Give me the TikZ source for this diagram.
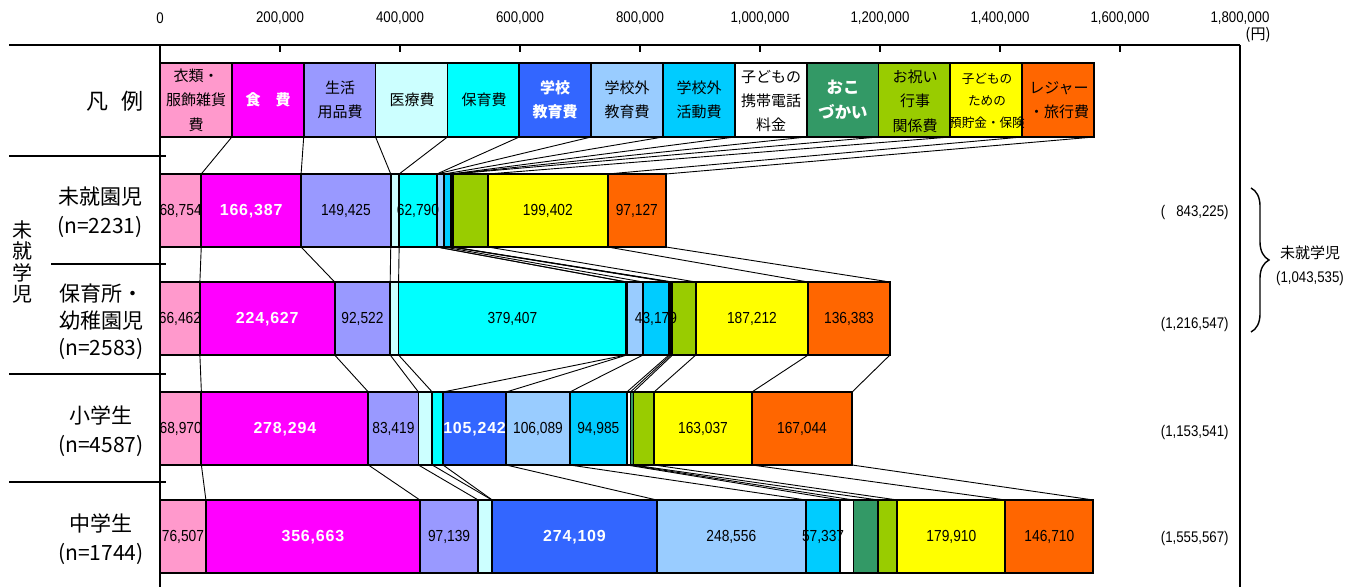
\documentclass[tikz,border=0pt]{standalone}
\usepackage{fontspec}
\setmainfont{Noto Sans CJK JP}
\newfontfamily\numfont[FakeStretch=0.86]{Liberation Sans}
\newfontfamily\wnumfont[LetterSpace=5]{Liberation Sans}
\usetikzlibrary{decorations.pathreplacing}

\definecolor{cat1}{HTML}{FF99CC}
\definecolor{cat2}{HTML}{FF00FF}
\definecolor{cat3}{HTML}{9999FF}
\definecolor{cat4}{HTML}{CCFFFF}
\definecolor{cat5}{HTML}{00FFFF}
\definecolor{cat6}{HTML}{3366FF}
\definecolor{cat7}{HTML}{99CCFF}
\definecolor{cat8}{HTML}{00CCFF}
\definecolor{cat9}{HTML}{FFFFFF}
\definecolor{cat10}{HTML}{339966}
\definecolor{cat11}{HTML}{99CC00}
\definecolor{cat12}{HTML}{FFFF00}
\definecolor{cat13}{HTML}{FF6600}

\pgfdeclarelayer{front}
\pgfsetlayers{main,front}

\tikzset{
  bar/.style={draw=black, line width=0.9pt},
  link/.style={line width=0.45pt},
  frame/.style={line width=1.2pt},
  leg/.style={align=center, font=\fontsize{7.5}{12.2}\selectfont},
  legw/.style={leg, text=white, font=\fontsize{7.5}{12.2}\selectfont\bfseries},
  num/.style={font=\numfont\fontsize{8}{9}\selectfont, inner sep=0pt},
  axisnum/.style={font=\numfont\fontsize{7.7}{9}\selectfont, inner sep=0pt},
  rowlab/.style={align=center, font=\fontsize{10.5}{14.5}\selectfont},
}

\newcommand{\wnum}{\wnumfont\bfseries\color{white}}

% one bar: name, top edge (px), value/label list (thousand yen)
\newcommand{\costbar}[3]{%
  \xdef\runsum{0}%
  \foreach \val/\lbl [count=\k] in {#3} {%
    \pgfmathsetmacro\xa{160+0.6*\runsum}%
    \pgfmathsetmacro\newsum{\runsum+\val}%
    \pgfmathsetmacro\xb{160+0.6*\newsum}%
    \global\let\runsum\newsum
    \filldraw[bar, fill=cat\k] (\xa,#2) rectangle (\xb,#2+73);
    \coordinate (#1-\k-top) at (\xb,#2);
    \coordinate (#1-\k-bot) at (\xb,#2+73);
    \begin{pgfonlayer}{front}
      \node[num] at ({(\xa+\xb)/2},#2+37) {\lbl};
    \end{pgfonlayer}
  }%
}

\begin{document}
\begin{tikzpicture}[x=0.5pt, y=-0.5pt]
\useasboundingbox (0,0) rectangle (1347,587);

% axis and frame
\foreach \t [count=\i from 0] in {0,{200,000},{400,000},{600,000},{800,000},{1,000,000},{1,200,000},{1,400,000},{1,600,000},{1,800,000}}
  \node[axisnum] at (160+120*\i,18) {\t};
\node[font=\fontsize{7.5}{9}\selectfont] at (1258,35) {(円)};
\draw[frame] (9,45) -- (1240,45);
\draw[frame] (160,45) -- (160,587);
\draw[frame] (1240,45) -- (1240,587);
\foreach \i in {1,...,8}
  \draw[frame] (160+120*\i,45) -- ++(0,7);
\draw[frame] (9,156) -- (166,156);
\draw[frame] (51,264) -- (166,264);
\draw[frame] (9,374) -- (166,374);
\draw[frame] (9,482) -- (166,482);

% legend
\node[font=\fontsize{11}{13}\selectfont] at (115,101) {凡\hspace{0.6em}例};
\foreach \k in {1,...,13} {
  \filldraw[bar, fill=cat\k] ({160+71.85*(\k-1)},63) rectangle ({160+71.85*\k},137);
  \coordinate (leg-\k) at ({160+71.85*\k},137);
}
\node[leg] at (196,100) {衣類・\\服飾雑貨\\費};
\node[legw] at (268,100) {食　費};
\node[leg] at (340,100) {生活\\用品費};
\node[leg] at (412,100) {医療費};
\node[leg] at (484,100) {保育費};
\node[legw] at (555,100) {学校\\教育費};
\node[leg] at (627,100) {学校外\\教育費};
\node[leg] at (699,100) {学校外\\活動費};
\node[leg] at (771,101) {子どもの\\携帯電話\\料金};
\node[legw, font=\fontsize{8.2}{12.5}\selectfont\bfseries] at (843,100) {おこ\\づかい};
\node[leg] at (915,101) {お祝い\\行事\\関係費};
\node[leg, font=\fontsize{6.3}{11}\selectfont] at (987,101) {子どもの\\ための\\預貯金・保険};
\node[leg] at (1059,100) {レジャー\\・旅行費};

% bars
\costbar{r1}{174}{68.754/{68,754}, 166.387/{\wnum 166,387}, 149.425/{149,425}, 14/{}, 62.79/{62,790}, 0/{}, 12/{}, 12/{}, 1.5/{}, 1.5/{}, 58.34/{}, 199.402/{199,402}, 97.127/{97,127}}
\costbar{r2}{282}{66.462/{66,462}, 224.627/{\wnum 224,627}, 92.522/{92,522}, 14/{}, 379.407/{379,407}, 1/{}, 27/{}, 43.179/{43,179}, 3/{}, 3/{}, 38.755/{}, 187.212/{187,212}, 136.383/{136,383}}
\costbar{r3}{392}{68.97/{68,970}, 278.294/{\wnum 278,294}, 83.419/{83,419}, 23/{}, 18/{}, 105.242/{\wnum 105,242}, 106.089/{106,089}, 94.985/{94,985}, 6/{}, 5/{}, 34.461/{}, 163.037/{163,037}, 167.044/{167,044}}
\costbar{r4}{500}{76.507/{76,507}, 356.663/{\wnum 356,663}, 97.139/{97,139}, 23/{}, 0.5/{}, 274.109/{\wnum 274,109}, 248.556/{248,556}, 57.337/{57,337}, 22/{}, 41/{}, 32.136/{}, 179.91/{179,910}, 146.71/{146,710}}

% links between bars
\foreach \k in {1,...,13} {
  \draw[link] (leg-\k) -- (r1-\k-top);
  \draw[link] (r1-\k-bot) -- (r2-\k-top);
  \draw[link] (r2-\k-bot) -- (r3-\k-top);
  \draw[link] (r3-\k-bot) -- (r4-\k-top);
}

% row labels
\node[align=center, font=\fontsize{10}{10.8}\selectfont] at (22,262) {未\\就\\学\\児};
\node[rowlab] at (100,212) {未就園児\\(n=2231)};
\node[rowlab, font=\fontsize{10.5}{13.5}\selectfont] at (101,322) {保育所・\\幼稚園児\\(n=2583)};
\node[rowlab] at (101,431) {小学生\\(n=4587)};
\node[rowlab] at (101,539) {中学生\\(n=1744)};

% totals
\node[axisnum, anchor=east] at (1229,213) {(\hphantom{1,}843,225)};
\node[axisnum, anchor=east] at (1229,325) {(1,216,547)};
\node[axisnum, anchor=east] at (1229,433) {(1,153,541)};
\node[axisnum, anchor=east] at (1229,539) {(1,555,567)};
\draw[line width=0.7pt, decorate, decoration={brace, amplitude=9pt}] (1251,188) -- (1251,332);
\node[font=\fontsize{7.5}{9}\selectfont] at (1310,253) {未就学児};
\node[axisnum] at (1310,279) {(1,043,535)};
\end{tikzpicture}
\end{document}
